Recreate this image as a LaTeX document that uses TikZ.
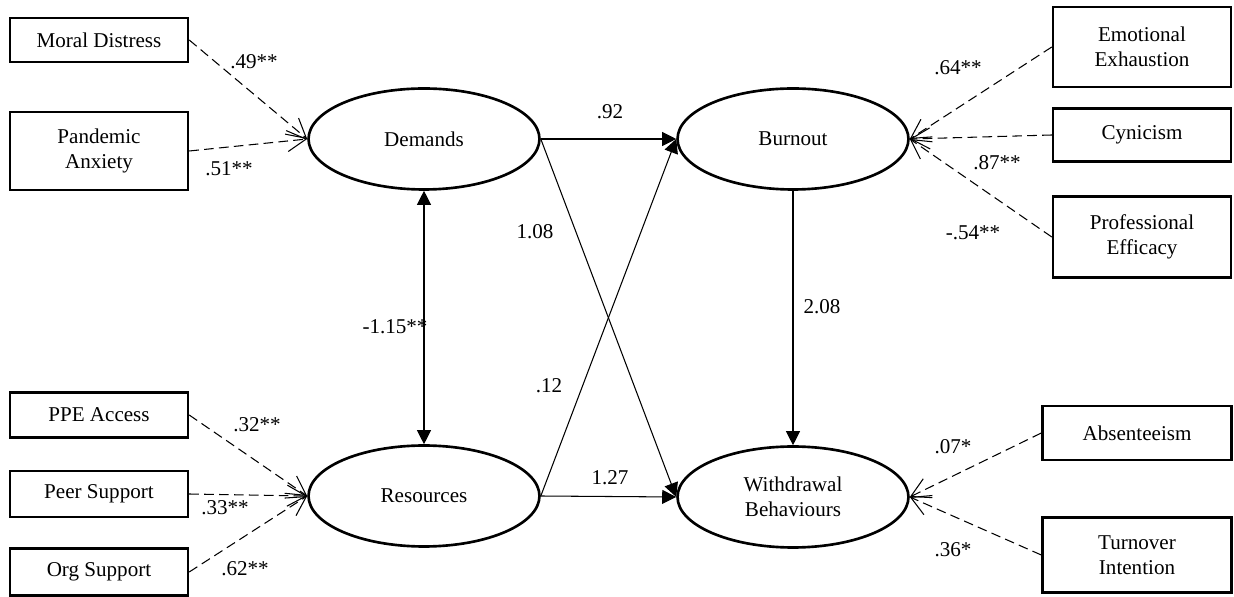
\documentclass[tikz,border=0pt]{standalone}
\usepackage{fontspec}
\setmainfont{Liberation Serif}
\usetikzlibrary{arrows.meta, shapes.geometric}

\begin{document}
\begin{tikzpicture}[x=0.02cm, y=-0.02cm,
    font=\fontsize{12pt}{14pt}\selectfont,
    indicator/.style={draw, line width=1.4pt, rectangle, minimum width=3.56cm, align=center, inner sep=2pt},
    factor/.style={draw, line width=1.5pt, ellipse, minimum width=4.62cm, minimum height=2.02cm, align=center, inner sep=0pt},
    loading/.style={line width=0.6pt, dash pattern=on 5.5pt off 3pt, -{Straight Barb[length=0.38cm, width=0.42cm]}},
    effect/.style={line width=0.6pt, -{Triangle[length=0.28cm, width=0.28cm]}},
    covar/.style={line width=0.6pt, {Triangle[length=0.28cm, width=0.28cm]}-{Triangle[length=0.28cm, width=0.28cm]}},
    coef/.style={inner sep=1pt}]
  \useasboundingbox (0,0) rectangle (1234,597);

  % latent factors
  \node[factor] (demands) at (424,139) {Demands};
  \node[factor] (burnout) at (793,139) {Burnout};
  \node[factor] (resources) at (424,496) {Resources};
  \node[factor] (withdrawal) at (793,497) {Withdrawal\\Behaviours};

  % indicators, left
  \node[indicator, minimum height=0.88cm] (moral) at (99,40) {Moral Distress};
  \node[indicator, minimum height=1.56cm] (anxiety) at (99,151) {Pandemic\\Anxiety};
  \node[indicator, minimum height=0.90cm] (ppe) at (99,415) {PPE Access};
  \node[indicator, minimum height=0.92cm] (peer) at (99,494) {Peer Support};
  \node[indicator, minimum height=0.94cm] (org) at (99,572) {Org Support};

  % indicators, right
  \node[indicator, minimum height=1.60cm] (exhaust) at (1142,47) {Emotional\\Exhaustion};
  \node[indicator, minimum height=1.06cm] (cynic) at (1142,135) {Cynicism};
  \node[indicator, minimum height=1.62cm] (efficacy) at (1142,237) {Professional\\Efficacy};
  \node[indicator, minimum width=3.78cm, minimum height=1.08cm] (absent) at (1137,433) {Absenteeism};
  \node[indicator, minimum width=3.78cm, minimum height=1.50cm] (turnover) at (1137,555) {Turnover\\Intention};

  % loadings
  \draw[loading] (moral.east) -- (demands.west);
  \draw[loading] (anxiety.east) -- (demands.west);
  \draw[loading] (ppe.east) -- (resources.west);
  \draw[loading] (peer.east) -- (resources.west);
  \draw[loading] (org.east) -- (resources.west);
  \draw[loading] (exhaust.west) -- (burnout.east);
  \draw[loading] (cynic.west) -- (burnout.east);
  \draw[loading] (efficacy.west) -- (burnout.east);
  \draw[loading] (absent.west) -- (withdrawal.east);
  \draw[loading] (turnover.west) -- (withdrawal.east);

  % structural paths
  \draw[effect] (demands.east) -- (burnout.west);
  \draw[effect] (demands.east) -- (withdrawal.west);
  \draw[effect] (resources.east) -- (burnout.west);
  \draw[effect] (resources.east) -- (withdrawal.west);
  \draw[effect] (burnout.south) -- (withdrawal.north);
  \draw[covar] (resources.north) -- (demands.south);

  % coefficients
  \node[coef] (cMoral) at (254,62) {.49**};
  \node[coef] (cAnxiety) at (229,169) {.51**};
  \node[coef] (cPpe) at (257,425) {.32**};
  \node[coef] (cPeer) at (225,508) {.33**};
  \node[coef] (cOrg) at (245,569) {.62**};
  \node[coef] (cExhaust) at (958,68) {.64**};
  \node[coef] (cCynic) at (997,163) {.87**};
  \node[coef] (cEfficacy) at (973,233) {-.54**};
  \node[coef] (cAbsent) at (953,447) {.07*};
  \node[coef] (cTurnover) at (953,550) {.36*};
  \node[coef] (cDB) at (610,112) {.92};
  \node[coef] (cDW) at (535,232) {1.08};
  \node[coef] (cRB) at (549,386) {.12};
  \node[coef] (cRW) at (610,478) {1.27};
  \node[coef] (cBW) at (822,307) {2.08};
  \node[coef] (cDR) at (395,327) {-1.15**};
\end{tikzpicture}
\end{document}
